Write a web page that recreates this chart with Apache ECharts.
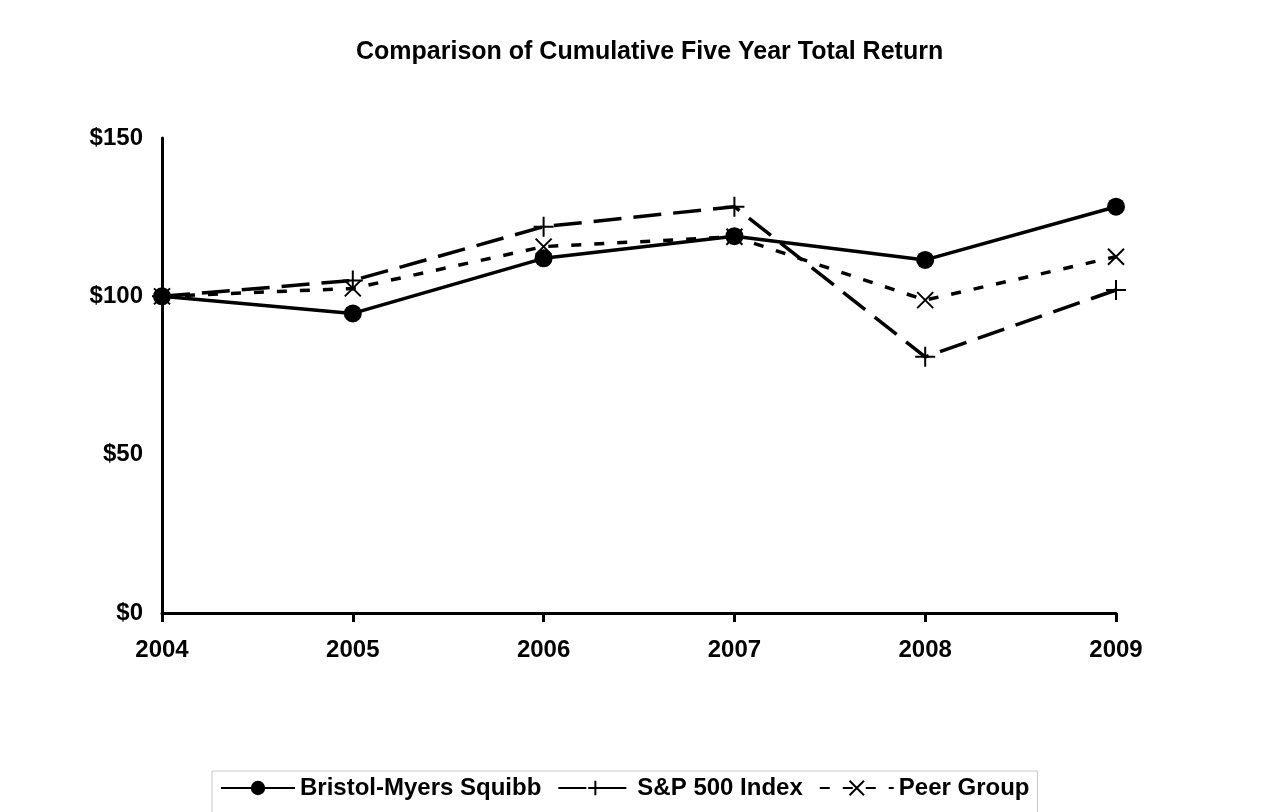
<!DOCTYPE html>
<html>
<head>
<meta charset="utf-8">
<script src="https://cdn.jsdelivr.net/npm/echarts@6/dist/echarts.min.js"></script>
<style>
  html, body { margin: 0; padding: 0; background: #fff; }
  #main { width: 1285px; height: 812px; }
</style>
</head>
<body>
<div id="main"></div>
<script>
var years = ['2004', '2005', '2006', '2007', '2008', '2009'];
var bmsData = [100, 94.6, 112.0, 119.0, 111.5, 128.3];
var spData = [100, 105.0, 122.0, 128.3, 80.9, 102.0];
var peerData = [100, 102.5, 115.7, 118.8, 98.8, 112.5];
var yTicks = [0, 50, 100, 150];

var myChart = echarts.init(document.getElementById('main'));
var font = 'Liberation Sans, Arial, sans-serif';
var plusPath = 'path://M5,0L5,10M0,5L10,5';
var crossPath = 'path://M0,0L10,10M10,0L0,10';

var option = {
    backgroundColor: '#fff',
    animation: false,
    title: {
        text: 'Comparison of Cumulative Five Year Total Return',
        left: 351,
        top: 35,
        textStyle: { fontFamily: font, fontWeight: 'bold', fontSize: 25, color: '#000' }
    },
    grid: { left: 162, right: 169, top: 138, bottom: 199 },
    xAxis: {
        type: 'category',
        data: years,
        boundaryGap: false,
        axisLine: { lineStyle: { color: '#000', width: 3 } },
        axisTick: { show: true, length: 9, lineStyle: { color: '#000', width: 3 } },
        axisLabel: { color: '#000', fontFamily: font, fontWeight: 'bold', fontSize: 24, margin: 25 }
    },
    yAxis: {
        type: 'value',
        min: yTicks[0],
        max: yTicks[yTicks.length - 1],
        interval: 50,
        splitLine: { show: false },
        axisLine: { show: true, lineStyle: { color: '#000', width: 3 } },
        axisTick: { show: false },
        axisLabel: {
            color: '#000', fontFamily: font, fontWeight: 'bold', fontSize: 24, margin: 19,
            formatter: function (v) { return '$' + v; }
        }
    },
    legend: {
        top: 771,
        left: 212,
        itemWidth: 74,
        itemHeight: 18,
        itemGap: 16,
        padding: [5, 8, 40, 8],
        borderColor: '#c8c8c8',
        borderWidth: 1,
        textStyle: { color: '#000', fontFamily: font, fontWeight: 'bold', fontSize: 24 },
        data: ['Bristol-Myers Squibb', 'S&P 500 Index', 'Peer Group']
    },
    series: [{
        name: 'Bristol-Myers Squibb',
        type: 'line',
        data: bmsData,
        symbol: 'circle',
        symbolSize: 18,
        z: 3,
        lineStyle: { color: '#000', width: 3.5, type: 'solid' },
        itemStyle: { color: '#000' }
    }, {
        name: 'S&P 500 Index',
        type: 'line',
        data: spData,
        symbol: plusPath,
        symbolSize: 20,
        lineStyle: { color: '#000', width: 3.5, type: [28, 12] },
        itemStyle: { color: 'none', borderColor: '#000', borderWidth: 2 }
    }, {
        name: 'Peer Group',
        type: 'line',
        data: peerData,
        symbol: crossPath,
        symbolSize: 16,
        lineStyle: { color: '#000', width: 3.5, type: [10, 13] },
        itemStyle: { color: 'none', borderColor: '#000', borderWidth: 2 }
    }]
};

myChart.setOption(option);

window.addEventListener('resize', function () {
    myChart.resize();
});
</script>
</body>
</html>
